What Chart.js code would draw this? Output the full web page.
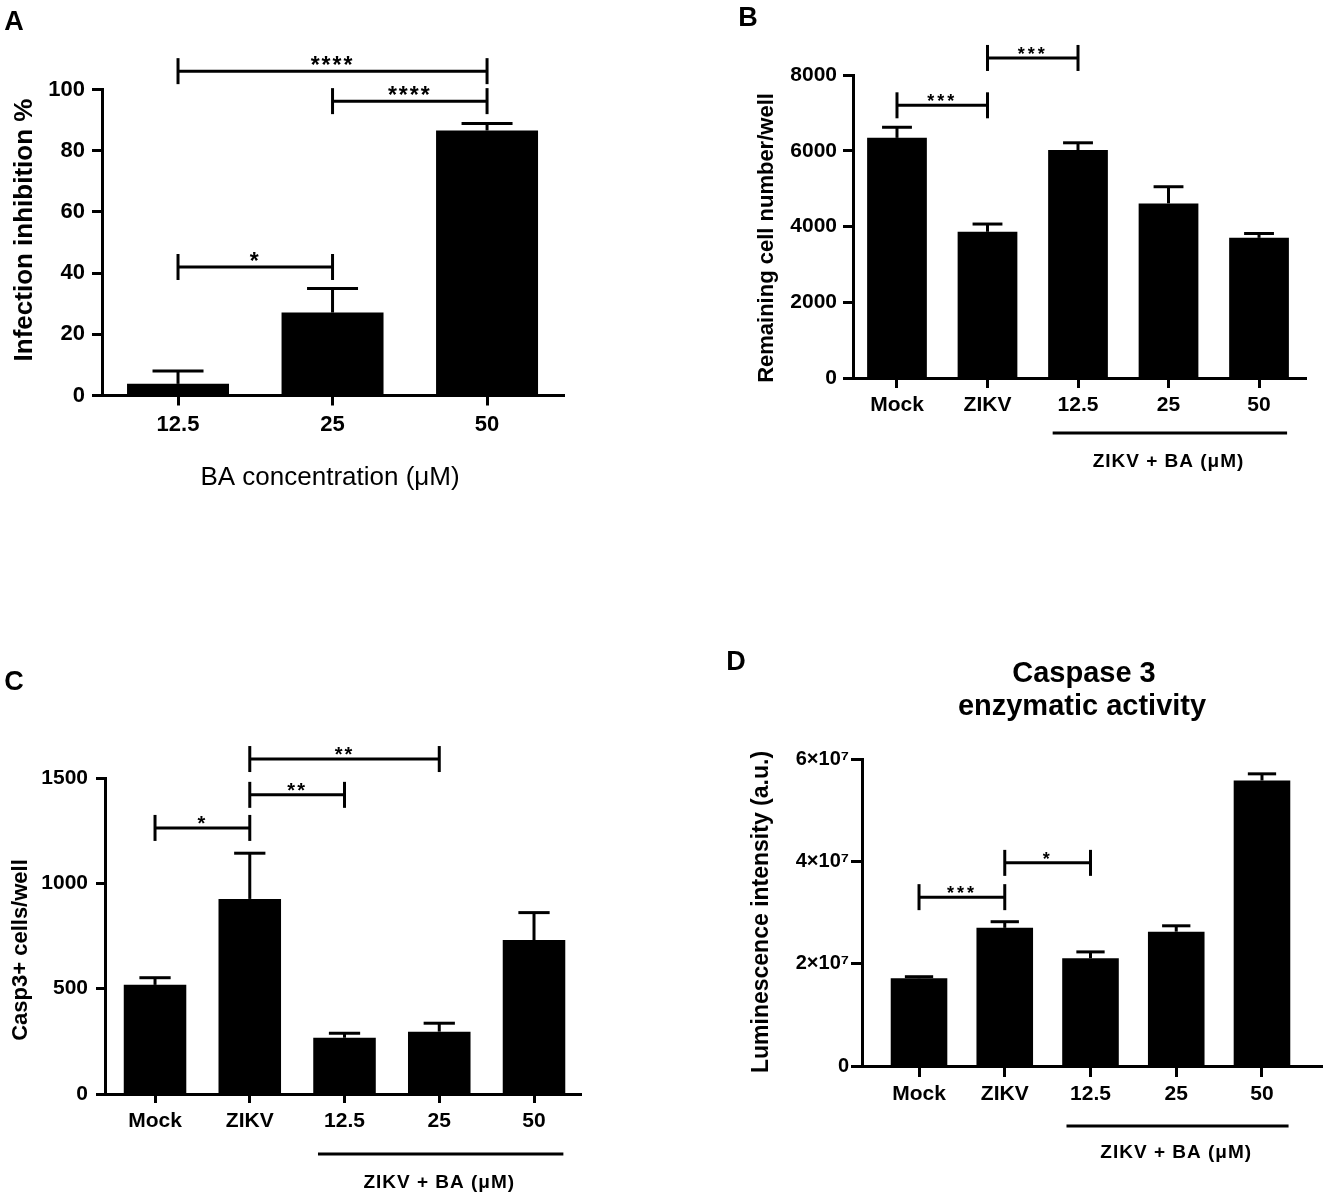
<!DOCTYPE html>
<html><head><meta charset="utf-8">
<script src="https://cdn.jsdelivr.net/npm/chart.js@4.4.1/dist/chart.umd.min.js"></script>
<style>
html,body{margin:0;padding:0;background:#fff;}
#wrap{position:relative;width:1326px;height:1201px;overflow:hidden;}
canvas{position:absolute;}
</style></head><body>
<div id="wrap">
<canvas id="cA" width="663" height="600" style="left:0;top:0"></canvas>
<canvas id="cB" width="663" height="600" style="left:663px;top:0"></canvas>
<canvas id="cC" width="663" height="601" style="left:0;top:600px"></canvas>
<canvas id="cD" width="663" height="601" style="left:663px;top:600px"></canvas>
</div>
<script>
const FONT = "'Liberation Sans', Arial, Helvetica, sans-serif";

// ---- Panel A data ----
const aCategories = ['12.5', '25', '50'];
const aMeans = [3.8, 27.1, 86.6];
const aErrors = [4.2, 7.9, 2.3];
const aTicks = [0, 20, 40, 60, 80, 100];
const aTickLabels = ['0', '20', '40', '60', '80', '100'];
const aBrackets = [[0, 1, 42, '*'], [1, 2, 96.2, '****'], [0, 2, 106, '****']];

// ---- Panel B data ----
const bCategories = ['Mock', 'ZIKV', '12.5', '25', '50'];
const bMeans = [6340, 3860, 6020, 4610, 3700];
const bErrors = [280, 205, 190, 440, 115];
const bTicks = [0, 2000, 4000, 6000, 8000];
const bTickLabels = ['0', '2000', '4000', '6000', '8000'];
const bBrackets = [[0, 1, 7200, '***'], [1, 2, 8450, '***']];

// ---- Panel C data ----
const cCategories = ['Mock', 'ZIKV', '12.5', '25', '50'];
const cMeans = [518, 926, 267, 296, 731];
const cErrors = [34, 217, 21, 40, 130];
const cTicks = [0, 500, 1000, 1500];
const cTickLabels = ['0', '500', '1000', '1500'];
const cBrackets = [[0, 1, 1263, '*'], [1, 2, 1420, '**'], [1, 3, 1590, '**']];

// ---- Panel D data ----
const dCategories = ['Mock', 'ZIKV', '12.5', '25', '50'];
const dMeans = [1.715e7, 2.70e7, 2.105e7, 2.625e7, 5.58e7];
const dErrors = [0.03e7, 0.12e7, 0.125e7, 0.115e7, 0.13e7];
const dTicks = [0, 2e7, 4e7, 6e7];
const dTickLabels = ['0', '2×10⁷', '4×10⁷', '6×10⁷'];
const dBrackets = [[0, 1, 3.30e7, '***'], [1, 2, 3.97e7, '*']];

const groupLabel = 'ZIKV + BA (μM)';

const panels = [
  { id: 'cA', letter: 'A', letterPos: [14, 23], off: [0, 0], size: [663, 600],
    area: [102, 89.5, 564, 395.5], xRange: [-0.492, 2.498],
    cats: aCategories, means: aMeans, errors: aErrors, ticks: aTicks, tickLabels: aTickLabels, brackets: aBrackets,
    yTickFont: 22, xTickFont: 22, tickLen: 10, yPad: 7, xPad: 6,
    starFont: 'bold 23px ' + FONT, starSpacing: '2px',
    yTitle: 'Infection inhibition %', yTitlePos: [25, 230], yTitleFont: 'bold 26px ' + FONT,
    xTitle: 'BA concentration (μM)', xTitlePos: [330, 478], xTitleFont: '26px ' + FONT,
    group: null },
  { id: 'cB', letter: 'B', letterPos: [748, 19], off: [663, 0], size: [663, 600],
    area: [853, 75, 1306, 378], xRange: [-0.486, 4.519],
    cats: bCategories, means: bMeans, errors: bErrors, ticks: bTicks, tickLabels: bTickLabels, brackets: bBrackets,
    yTickFont: 21, xTickFont: 21, tickLen: 10, yPad: 6, xPad: 5,
    starFont: 'bold 18px ' + FONT, starSpacing: '3px',
    yTitle: 'Remaining cell number/well', yTitlePos: [767, 238], yTitleFont: 'bold 22px ' + FONT,
    group: { y1: 55, y2: 84 } },
  { id: 'cC', letter: 'C', letterPos: [14, 683], off: [0, 600], size: [663, 601],
    area: [105, 778, 581, 1094], xRange: [-0.528, 4.496],
    cats: cCategories, means: cMeans, errors: cErrors, ticks: cTicks, tickLabels: cTickLabels, brackets: cBrackets,
    yTickFont: 21, xTickFont: 21, tickLen: 9, yPad: 8, xPad: 6,
    starFont: 'bold 20px ' + FONT, starSpacing: '2px',
    yTitle: 'Casp3+ cells/well', yTitlePos: [21, 950], yTitleFont: 'bold 22px ' + FONT,
    group: { y1: 60, y2: 89 } },
  { id: 'cD', letter: 'D', letterPos: [736, 663], off: [663, 600], size: [663, 601],
    area: [862, 759, 1322, 1066], xRange: [-0.665, 4.70],
    cats: dCategories, means: dMeans, errors: dErrors, ticks: dTicks, tickLabels: dTickLabels, brackets: dBrackets,
    yTickFont: 20, xTickFont: 21, tickLen: 11, yPad: 2, xPad: 5,
    starFont: 'bold 18px ' + FONT, starSpacing: '3px',
    yTitle: 'Luminescence intensity (a.u.)', yTitlePos: [762, 912], yTitleFont: 'bold 23px ' + FONT,
    title: ['Caspase 3', 'enzymatic activity'], titlePos: [[1084, 674], [1082, 707]], titleFont: 'bold 29px ' + FONT,
    group: { y1: 60, y2: 87 } }
];

function makeAnnot(p) {
  return {
    id: 'annot_' + p.id,
    afterDraw(chart) {
      const ctx = chart.ctx, xs = chart.scales.x, ys = chart.scales.y;
      const ox = p.off[0], oy = p.off[1];
      const meta = chart.getDatasetMeta(0);
      const line = (x1, y1, x2, y2) => { ctx.beginPath(); ctx.moveTo(x1, y1); ctx.lineTo(x2, y2); ctx.stroke(); };
      ctx.save();
      ctx.strokeStyle = '#000'; ctx.fillStyle = '#000'; ctx.lineCap = 'butt';
      // error bars (upper only)
      p.means.forEach((m, i) => {
        const x = xs.getPixelForValue(i);
        const y0 = ys.getPixelForValue(m);
        const y1 = ys.getPixelForValue(m + p.errors[i]);
        const w = meta.data[i].width * 0.5;
        ctx.lineWidth = 3;
        line(x, y0, x, y1);
        line(x - w / 2, y1, x + w / 2, y1);
      });
      // significance brackets
      p.brackets.forEach(([i, j, v, lab]) => {
        const x1 = xs.getPixelForValue(i), x2 = xs.getPixelForValue(j), y = ys.getPixelForValue(v);
        ctx.lineWidth = 3;
        line(x1, y, x2, y);
        line(x1, y - 13, x1, y + 13);
        line(x2, y - 13, x2, y + 13);
        ctx.font = p.starFont;
        ctx.letterSpacing = p.starSpacing;
        ctx.textAlign = 'center'; ctx.textBaseline = 'alphabetic';
        ctx.fillText(lab, (x1 + x2) / 2, y + 2);
        ctx.letterSpacing = '0px';
      });
      // group line + label
      if (p.group) {
        const gx1 = xs.getPixelForValue(2 - 0.28), gx2 = xs.getPixelForValue(p.cats.length - 1 + 0.31);
        const gy = chart.chartArea.bottom + p.group.y1;
        ctx.lineWidth = 3;
        line(gx1, gy, gx2, gy);
        ctx.font = 'bold 19px ' + FONT;
        ctx.letterSpacing = '1px';
        ctx.textAlign = 'center'; ctx.textBaseline = 'middle';
        ctx.fillText(groupLabel, xs.getPixelForValue(3), chart.chartArea.bottom + p.group.y2);
        ctx.letterSpacing = '0px';
      }
      // y title
      ctx.save();
      ctx.translate(p.yTitlePos[0] - ox, p.yTitlePos[1] - oy);
      ctx.rotate(-Math.PI / 2);
      ctx.font = p.yTitleFont; ctx.textAlign = 'center'; ctx.textBaseline = 'middle';
      ctx.fillText(p.yTitle, 0, 0);
      ctx.restore();
      // x title
      if (p.xTitle) {
        ctx.font = p.xTitleFont; ctx.textAlign = 'center'; ctx.textBaseline = 'middle';
        ctx.fillText(p.xTitle, p.xTitlePos[0] - ox, p.xTitlePos[1] - oy);
      }
      // chart title
      if (p.title) {
        ctx.font = p.titleFont; ctx.textAlign = 'center'; ctx.textBaseline = 'middle';
        p.title.forEach((t, k) => ctx.fillText(t, p.titlePos[k][0] - ox, p.titlePos[k][1] - oy));
      }
      // panel letter
      ctx.font = 'bold 27px ' + FONT; ctx.textAlign = 'center'; ctx.textBaseline = 'middle';
      ctx.fillText(p.letter, p.letterPos[0] - ox, p.letterPos[1] - oy);
      ctx.restore();
    }
  };
}

panels.forEach(p => {
  const [W, H] = p.size;
  const left = p.area[0] - p.off[0], top = p.area[1] - p.off[1];
  const right = p.area[2] - p.off[0], bottom = p.area[3] - p.off[1];
  new Chart(document.getElementById(p.id), {
    type: 'bar',
    data: {
      datasets: [{
        data: p.cats.map((c, i) => ({ x: i, y: p.means[i] })),
        backgroundColor: '#000', borderWidth: 0,
        categoryPercentage: 1, barPercentage: 0.66
      }]
    },
    options: {
      responsive: false, animation: false, devicePixelRatio: window.devicePixelRatio || 1,
      layout: { padding: { left: 0, top: top, right: W - right, bottom: 0 } },
      plugins: { legend: { display: false }, tooltip: { enabled: false }, title: { display: false } },
      scales: {
        x: {
          type: 'linear', min: p.xRange[0], max: p.xRange[1], offset: false,
          afterBuildTicks: s => { s.ticks = p.cats.map((c, i) => ({ value: i })); },
          afterFit: s => { s.height = H - bottom; },
          ticks: { callback: v => p.cats[v] !== undefined ? p.cats[v] : '', autoSkip: false, maxRotation: 0,
                   color: '#000', padding: p.xPad, font: { family: FONT, size: p.xTickFont, weight: 'bold' } },
          grid: { display: true, offset: false, drawOnChartArea: false, drawTicks: true, tickLength: p.tickLen, tickWidth: 3, tickColor: '#000' },
          border: { display: true, width: 3, color: '#000' }
        },
        y: {
          min: 0, max: p.ticks[p.ticks.length - 1],
          afterBuildTicks: s => { s.ticks = p.ticks.map(v => ({ value: v })); },
          afterFit: s => { s.width = left; },
          ticks: { callback: (v) => { const k = p.ticks.indexOf(v); return k >= 0 ? p.tickLabels[k] : ''; },
                   color: '#000', padding: p.yPad, font: { family: FONT, size: p.yTickFont, weight: 'bold' } },
          grid: { display: true, offset: false, drawOnChartArea: false, drawTicks: true, tickLength: p.tickLen, tickWidth: 3, tickColor: '#000' },
          border: { display: true, width: 3, color: '#000' }
        }
      }
    },
    plugins: [makeAnnot(p)]
  });
});
</script>
</body></html>
